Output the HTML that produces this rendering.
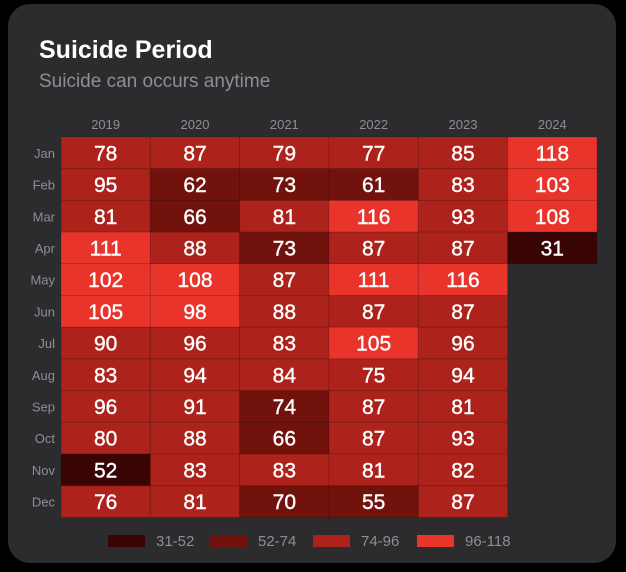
<!DOCTYPE html>
<html><head><meta charset="utf-8"><style>
html,body{margin:0;padding:0;background:#000;width:626px;height:572px;overflow:hidden;font-family:"Liberation Sans",sans-serif}
#card{position:absolute;left:8px;top:4px;width:608px;height:559px;background:#2c2c2e;border-radius:22px}
#title{position:absolute;left:39px;top:36px;color:#fff;font-size:25px;font-weight:bold}
#sub{position:absolute;left:39px;top:71px;color:#8e8e93;font-size:19px}
svg{position:absolute;left:0;top:0}
</style></head><body>
<div id="card"></div>
<div id="title">Suicide Period</div>
<div id="sub">Suicide can occurs anytime</div>
<svg id="chart" width="626" height="572"></svg>
<script>
const years=["2019","2020","2021","2022","2023","2024"];
const months=["Jan","Feb","Mar","Apr","May","Jun","Jul","Aug","Sep","Oct","Nov","Dec"];
const v2019=[78,95,81,111,102,105,90,83,96,80,52,76];
const v2020=[87,62,66,88,108,98,96,94,91,88,83,81];
const v2021=[79,73,81,73,87,88,83,84,74,66,83,70];
const v2022=[77,61,116,87,111,87,105,75,87,87,81,55];
const v2023=[85,83,93,87,116,87,96,94,81,93,82,87];
const v2024=[118,103,108,31];
const binLabels=["31-52","52-74","74-96","96-118"];
const binEdges=[31,52,74,96,118];
const binColors=["#380404","#72120d","#ad221a","#e8342a"];
const series=[v2019,v2020,v2021,v2022,v2023,v2024];
const NS="http://www.w3.org/2000/svg";
const svg=document.getElementById('chart');
const x0=61,cw=89.33,y0=137,rh=31.7;
const xs=i=>x0+i*cw, ys=j=>y0+j*rh;
function bin(v){for(let k=0;k<4;k++){if(v<=binEdges[k+1])return k;}return 3;}
function mk(t,a){const e=document.createElementNS(NS,t);for(const k in a)e.setAttribute(k,a[k]);svg.appendChild(e);return e;}
years.forEach((y,i)=>{const t=mk('text',{x:xs(i)+cw/2,y:129,fill:'#8e8e93','font-size':13,'text-anchor':'middle'});t.textContent=y;

});
months.forEach((m,j)=>{const t=mk('text',{x:55,y:ys(j)+rh/2+5,fill:'#8e8e93','font-size':13,'text-anchor':'end'});t.textContent=m;

});
series.forEach((s,i)=>s.forEach((v,j)=>{
const r=mk('rect',{x:xs(i),y:ys(j),width:cw,height:rh,fill:binColors[bin(v)],stroke:'rgba(0,0,0,0.12)','stroke-width':1});


const t=mk('text',{x:xs(i)+cw/2,y:ys(j)+rh/2+7.5,fill:'#fff','font-size':21,'text-anchor':'middle','stroke':'#fff','stroke-width':0.4});t.textContent=v;


}));
const lx=[108,210,313,417];
binLabels.forEach((l,k)=>{
const r=mk('rect',{x:lx[k],y:535,width:37,height:12,fill:binColors[k]});


const t=mk('text',{x:lx[k]+48,y:546,fill:'#8e8e93','font-size':15});t.textContent=l;


});
</script>
</body></html>
